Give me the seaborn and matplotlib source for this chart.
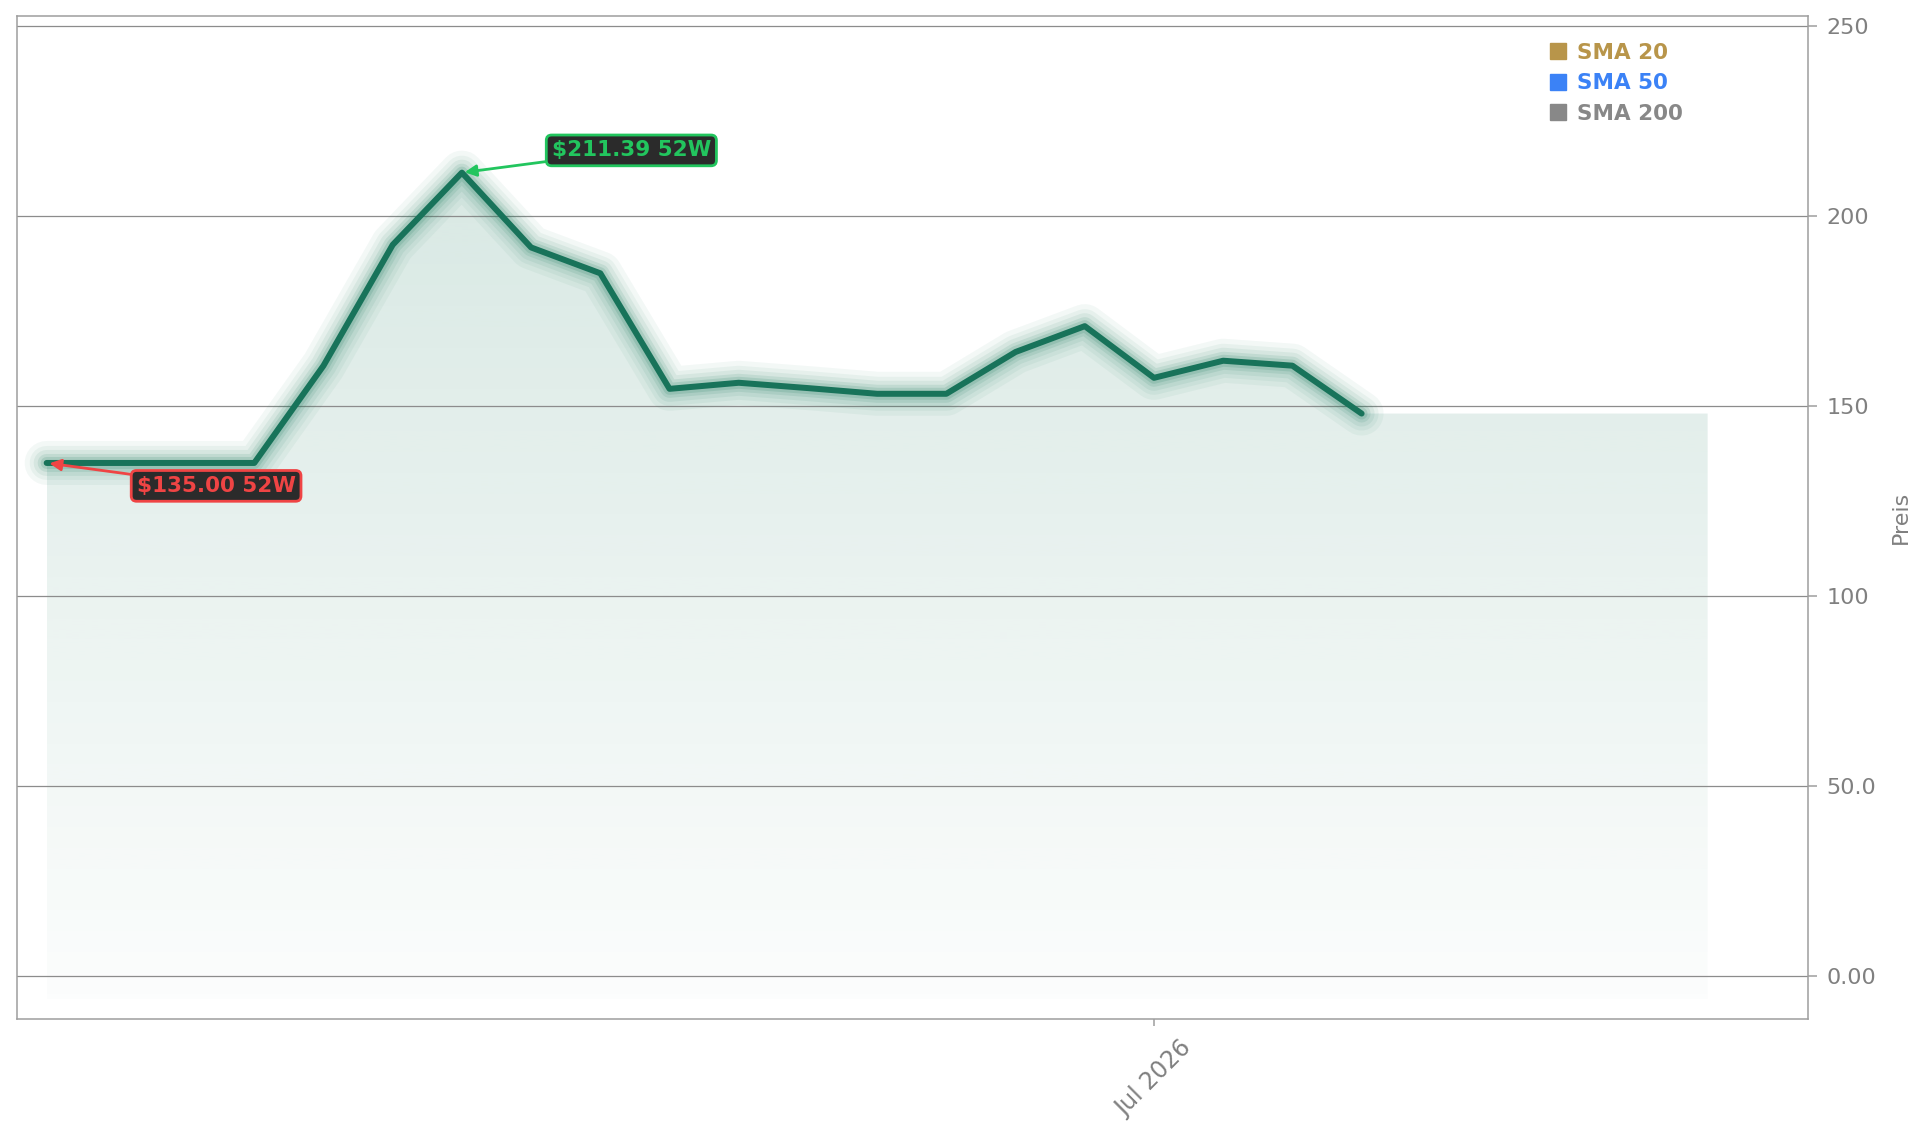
import matplotlib
matplotlib.use("Agg")
import numpy as np
import pandas as pd
import seaborn as sns
import matplotlib.pyplot as plt
import matplotlib.dates as mdates
from matplotlib.lines import Line2D
from matplotlib.path import Path
from matplotlib.patches import PathPatch
from matplotlib.colors import to_rgb
from matplotlib.ticker import FixedLocator

# ---------------- data ----------------
dates = pd.date_range("2026-03-11", periods=20, freq="7D")
prices = [135.0, 135.0, 135.0, 135.0, 160.6, 192.4, 211.39, 191.7, 184.9, 154.5,
          156.1, 154.7, 153.2, 153.2, 164.2, 171.0, 157.4, 161.9, 160.6, 148.0]
fill_end = pd.Timestamp("2026-08-26")
fill_base = -6.0
high_label = "$211.39 52W"
low_label = "$135.00 52W"
legend_labels = ["SMA 20", "SMA 50", "SMA 200"]
legend_colors = ["#b8954a", "#3b82f6", "#888888"]
ytick_values = [0, 50, 100, 150, 200, 250]
ytick_labels = ["0.00", "50.0", "100", "150", "200", "250"]
xtick_dates = [pd.Timestamp("2026-07-01")]

GREEN = "#1a7a5c"
GRAY_TXT = "#808080"

sns.set_theme(style="white")
plt.rcParams["font.family"] = ["DejaVu Sans"]

W, H = 1929, 1138
fig = plt.figure(figsize=(W / 100, H / 100), dpi=100)
ax = fig.add_axes([17 / W, 1 - 1019 / H, (1808 - 17) / W, (1019 - 16) / H])

df = pd.DataFrame({"Datum": dates, "Preis": prices})

# glow layers
for w, a in [(44, 0.05), (34, 0.06), (26, 0.08), (18, 0.11), (12, 0.15)]:
    sns.lineplot(data=df, x="Datum", y="Preis", ax=ax, color=GREEN,
                 lw=w * 0.72, alpha=a, zorder=2)
# main line
sns.lineplot(data=df, x="Datum", y="Preis", ax=ax, color="#18735a", lw=6 * 0.72, zorder=3)

# gradient fill under the line, continued flat to fill_end
xnums = mdates.date2num(dates)
xen = mdates.date2num(fill_end)
verts = list(zip(xnums, prices)) + [(xen, prices[-1]), (xen, fill_base), (xnums[0], fill_base), (xnums[0], prices[0])]
codes = [Path.MOVETO] + [Path.LINETO] * (len(verts) - 2) + [Path.CLOSEPOLY]
patch = PathPatch(Path(verts, codes), facecolor="none", edgecolor="none")
ax.add_patch(patch)
grad = np.zeros((256, 1, 4))
grad[..., :3] = to_rgb(GREEN)
grad[..., 3] = np.linspace(0.17, 0.015, 256)[:, None]
im = ax.imshow(grad, extent=[xnums[0], xen, fill_base, max(prices)], aspect="auto",
               origin="upper", zorder=1, interpolation="bilinear")
im.set_clip_path(patch)

# annotations
imax = int(np.argmax(prices))
imin = int(np.argmin(prices))
ax.annotate(high_label, xy=(dates[imax], prices[imax]), xytext=(122, 16),
            textcoords="offset points", ha="center", va="center",
            fontsize=15.5, fontweight="bold", color="#22c55e", zorder=6,
            bbox=dict(boxstyle="round,pad=0.25", fc="#2b2b2b", ec="#22c55e", lw=2),
            arrowprops=dict(arrowstyle="-|>", color="#22c55e", lw=2, mutation_scale=17,
                            shrinkA=0, shrinkB=2))
ax.annotate(low_label, xy=(dates[imin], prices[imin]), xytext=(122, -16.5),
            textcoords="offset points", ha="center", va="center",
            fontsize=15.5, fontweight="bold", color="#ef4444", zorder=6,
            bbox=dict(boxstyle="round,pad=0.25", fc="#2b2b2b", ec="#ef4444", lw=2),
            arrowprops=dict(arrowstyle="-|>", color="#ef4444", lw=2, mutation_scale=17,
                            shrinkA=0, shrinkB=2))

# limits
x0 = xnums[0] - 3.0
x1 = xnums[0] + 25.45 * 7
ax.set_xlim(x0, x1)
ax.set_ylim(-11.3, 252.6)

# axes styling
ax.set_axisbelow("line")
ax.grid(axis="y", color="#8c8c8c", lw=0.9)
ax.grid(axis="x", visible=False)
for s in ax.spines.values():
    s.set_visible(True)
    s.set_color("#9e9e9e")
    s.set_linewidth(1.1)

ax.yaxis.tick_right()
ax.yaxis.set_label_position("right")
ax.set_yticks(ytick_values)
ax.set_yticklabels(ytick_labels)
ax.tick_params(axis="y", which="both", right=True, left=False, length=6.7, width=1.1,
               color="#9e9e9e", labelcolor=GRAY_TXT, labelsize=16, pad=6.5)
ax.set_ylabel("Preis", color=GRAY_TXT, fontsize=16, labelpad=11)

ax.xaxis.set_major_locator(FixedLocator(mdates.date2num(xtick_dates)))
ax.xaxis.set_major_formatter(mdates.DateFormatter("%b %Y"))
ax.tick_params(axis="x", bottom=True, length=5, width=1.1, color="#9e9e9e",
               labelcolor=GRAY_TXT, labelsize=17, pad=7)
for lab in ax.get_xticklabels():
    lab.set_rotation(45)
    lab.set_ha("center")
ax.set_xlabel("")

# legend
handles = [Line2D([], [], marker="s", ls="none", color=c, markersize=11.5) for c in legend_colors]
leg = ax.legend(handles, legend_labels, loc="upper left", bbox_to_anchor=(1550 / W, 1 - 43 / H),
                bbox_transform=fig.transFigure, frameon=False,
                prop={"weight": "bold", "size": 15.5}, handlelength=0.75, handletextpad=0.5,
                labelspacing=0.48, borderpad=0, borderaxespad=0)
for t, c in zip(leg.get_texts(), legend_colors):
    t.set_color(c)

fig.savefig("out.png", dpi=100)
